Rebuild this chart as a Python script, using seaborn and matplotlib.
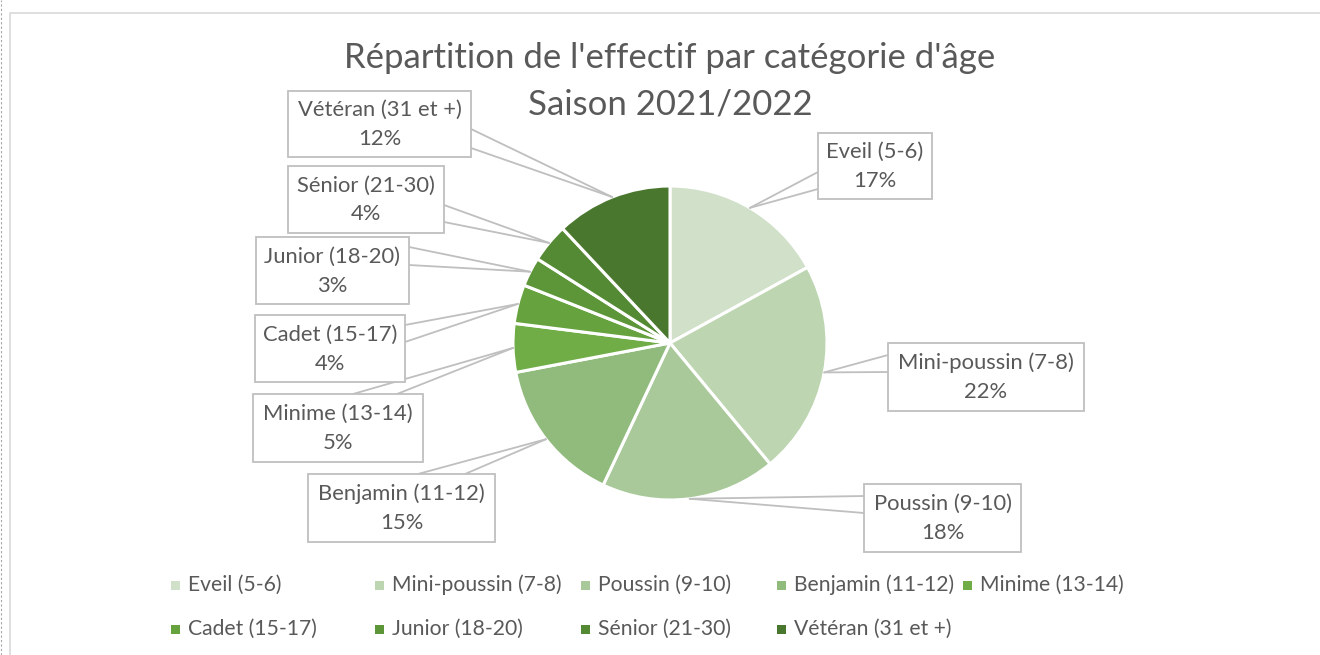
import seaborn as sns
import matplotlib.pyplot as plt
import numpy as np
from matplotlib.patches import Rectangle

# data
categories = ["Eveil (5-6)", "Mini-poussin (7-8)", "Poussin (9-10)", "Benjamin (11-12)",
              "Minime (13-14)", "Cadet (15-17)", "Junior (18-20)", "Sénior (21-30)",
              "Vétéran (31 et +)"]
percents = [17, 22, 18, 15, 5, 4, 3, 4, 12]
colors = ["#d1e0c9", "#bdd6b1", "#a9c99b", "#90bb7c", "#70ad47",
          "#66a33f", "#5d9638", "#548a34", "#4a772e"]
title_lines = ["Répartition de l'effectif par catégorie d'âge", "Saison 2021/2022"]

sns.set_theme(style="white")
plt.rcParams['font.family'] = ['Lato', 'DejaVu Sans']

W, H = 1320, 655
TXT = "#595959"
GRID = "#bfbfbf"


def fy(y):
    # pixel row (from top) -> axes y
    return H - y


fig = plt.figure(figsize=(W / 100, H / 100), dpi=100)
ax = fig.add_axes([0, 0, 1, 1])

cx, cy, r = 670, fy(343), 157
wedges, _ = ax.pie(percents, colors=colors, startangle=90, counterclock=False,
                   center=(cx, cy), radius=r,
                   wedgeprops=dict(edgecolor="white", linewidth=2.2))
ax.set_xlim(0, W)
ax.set_ylim(0, H)
ax.set_aspect("auto")
ax.axis("off")

# chart frame (cropped at right / bottom)
ax.add_patch(Rectangle((10, -20), W + 20, fy(13) + 20, fill=False,
                       edgecolor="#d9d9d9", linewidth=1.2))
ax.plot([0.5, 0.5], [0, H], color="#a6a6a6", lw=0.8, ls=(0, (2, 2)))

# title
ax.text(670, fy(58), title_lines[0], ha="center", va="center", fontsize=25, color=TXT)
ax.text(670, fy(104), title_lines[1], ha="center", va="center", fontsize=25, color=TXT)

# callout layout (pixels): box x0, y0, x1, y1 and two base points on the box edge
boxes = [
    (818, 133, 932, 199, (818, 172), (818, 189)),
    (888, 343, 1084, 411, (888, 355), (888, 372)),
    (864, 484, 1021, 552, (864, 496), (864, 513)),
    (308, 474, 495, 542, (418, 474), (465, 474)),
    (253, 394, 423, 462, (353, 394), (397, 394)),
    (255, 315, 405, 382, (405, 325), (405, 342)),
    (256, 237, 409, 304, (409, 247), (409, 265)),
    (288, 166, 444, 233, (444, 205), (444, 222)),
    (288, 91, 471, 157, (471, 129), (471, 148)),
]

for w, name, pct, (x0, y0, x1, y1, b1, b2) in zip(wedges, categories, percents, boxes):
    mid = np.deg2rad((w.theta1 + w.theta2) / 2)
    tx, ty = cx + r * np.cos(mid), cy + r * np.sin(mid)
    for bx, by in (b1, b2):
        ax.plot([bx, tx], [fy(by), ty], color=GRID, lw=1.3, zorder=4)
    ax.add_patch(Rectangle((x0, fy(y1)), x1 - x0, y1 - y0, facecolor="white",
                           edgecolor=GRID, linewidth=1.3, zorder=5))
    mx, my = (x0 + x1) / 2, (y0 + y1) / 2
    ax.text(mx, fy(my - 14), name, ha="center", va="center", fontsize=15.8, color=TXT, zorder=6)
    ax.text(mx, fy(my + 15), f"{pct}%", ha="center", va="center", fontsize=15.8, color=TXT, zorder=6)

# legend, laid out like the original (row-major, 5 columns)
leg_x = [175, 379, 585, 781, 967]
leg_y = [585, 629]
for i, (name, col) in enumerate(zip(categories, colors)):
    lx, ly = leg_x[i % 5], leg_y[i // 5]
    ax.add_patch(Rectangle((lx - 4.5, fy(ly) - 4.5), 9, 9, facecolor=col, edgecolor="none"))
    ax.text(lx + 13, fy(ly), name, ha="left", va="center", fontsize=15.2, color=TXT)

fig.savefig("out.png", dpi=100)
